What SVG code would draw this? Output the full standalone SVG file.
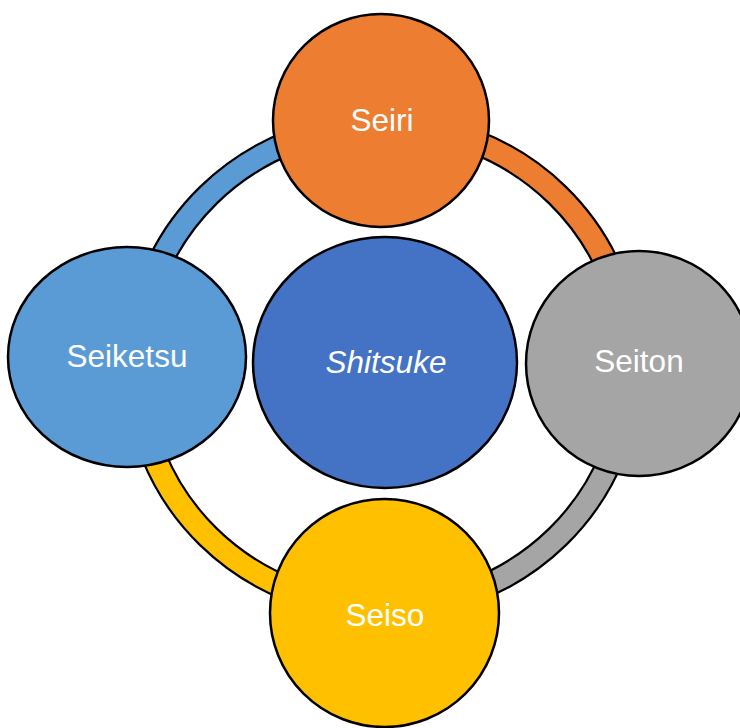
<svg xmlns="http://www.w3.org/2000/svg" width="740" height="728" viewBox="0 0 740 728">
  <style>
    .seg { stroke: #000; stroke-width: 2.2; stroke-linejoin: round; }
    .node { stroke: #000; stroke-width: 2.5; }
    .label { font-family: "Liberation Sans", Arial, sans-serif; font-size: 31.5px; fill: #fff; text-anchor: middle; }
  </style>
  <rect width="740" height="728" fill="#fff"/>

  <!-- ring segments joining neighbouring steps -->
  <g id="connectors">
    <path class="seg" fill="#ED7D31" d="M383,113 A259,253 0 0 1 642,366 L618,366 A235,230 0 0 0 383,136 Z"/>
    <path class="seg" fill="#A5A5A5" d="M642,366 A259,253 0 0 1 383,619 L383,596 A235,230 0 0 0 618,366 Z"/>
    <path class="seg" fill="#FFC000" d="M383,619 A259,253 0 0 1 124,366 L148,366 A235,230 0 0 0 383,596 Z"/>
    <path class="seg" fill="#5B9BD5" d="M124,366 A259,253 0 0 1 383,113 L383,136 A235,230 0 0 0 148,366 Z"/>
  </g>

  <g id="shitsuke">
    <ellipse class="node" cx="385" cy="362.5" rx="132" ry="125.5" fill="#4472C4"/>
    <text class="label" x="386" y="373" font-style="italic">Shitsuke</text>
  </g>

  <g id="seiri">
    <ellipse class="node" cx="381" cy="120.5" rx="108" ry="106.5" fill="#ED7D31"/>
    <text class="label" x="382" y="131">Seiri</text>
  </g>

  <g id="seiton">
    <ellipse class="node" cx="639" cy="363.5" rx="113" ry="112.5" fill="#A5A5A5"/>
    <text class="label" x="639" y="372">Seiton</text>
  </g>

  <g id="seiso">
    <ellipse class="node" cx="384.5" cy="613" rx="114.5" ry="114" fill="#FFC000"/>
    <text class="label" x="385" y="626">Seiso</text>
  </g>

  <g id="seiketsu">
    <ellipse class="node" cx="127" cy="357" rx="119" ry="110" fill="#5B9BD5"/>
    <text class="label" x="127" y="367">Seiketsu</text>
  </g>
</svg>
